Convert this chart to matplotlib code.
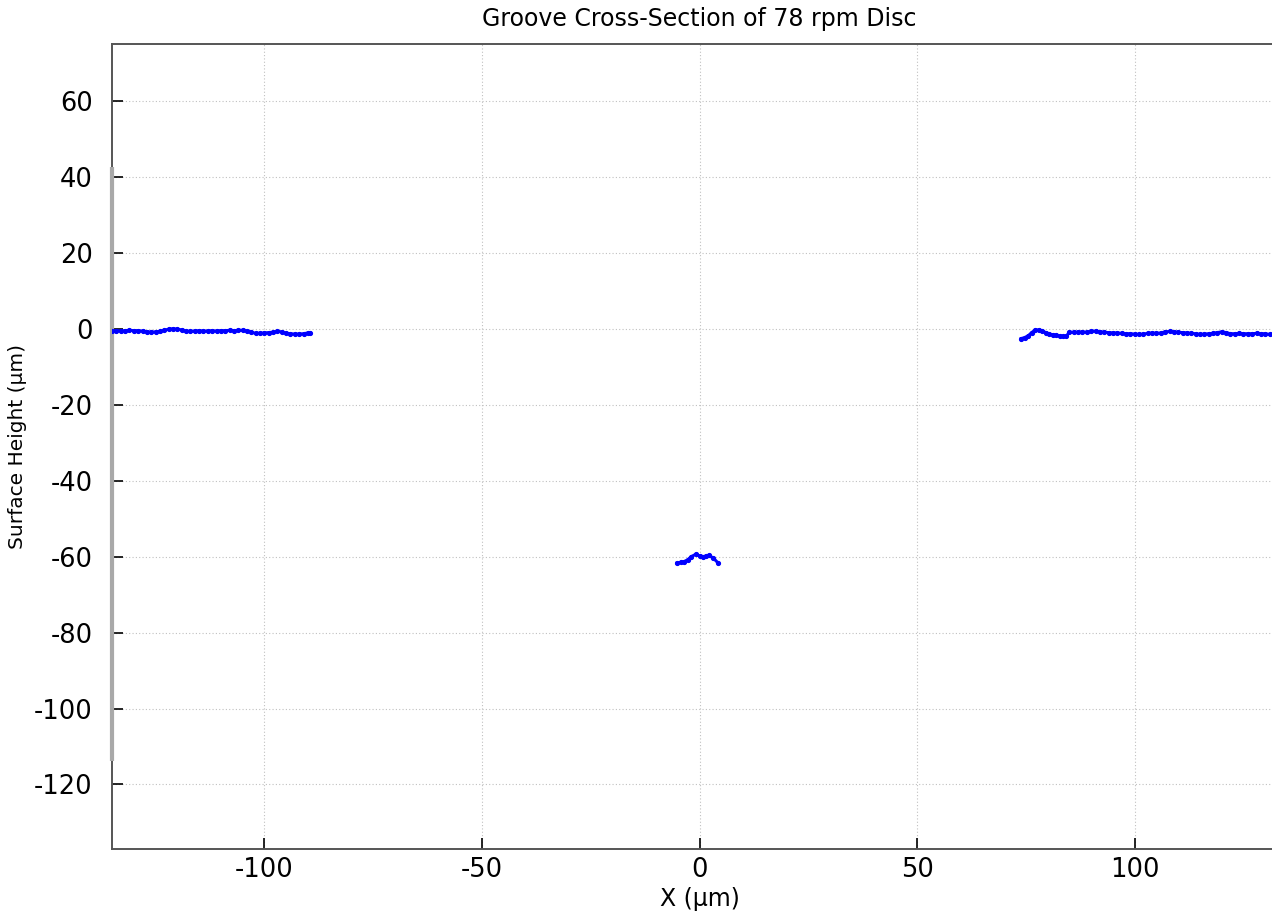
import matplotlib
matplotlib.use("Agg")
import matplotlib.pyplot as plt

plt.rcParams['font.family'] = ['DejaVu Sans']
plt.rcParams['axes.unicode_minus'] = False

title = "Groove Cross-Section of 78 rpm Disc"
xlabel = "X (\u03bcm)"
ylabel = "Surface Height (\u03bcm)"

# Left land of the groove
left_x = [-135, -134, -133, -132, -131, -130, -129, -128, -127, -126, -125, -124, -123, -122,
          -121, -120, -119, -118, -117, -116, -115, -114, -113, -112, -111, -110, -109, -108,
          -107, -106, -105, -104, -103, -102, -101, -100, -99, -98, -97, -96, -95, -94, -93,
          -92, -91, -90, -89.5]
left_y = [-0.6, -0.5, -0.6, -0.5, -0.4, -0.5, -0.5, -0.6, -0.8, -0.9, -0.8, -0.7, -0.4, -0.1,
          0.0, -0.1, -0.3, -0.6, -0.7, -0.6, -0.5, -0.6, -0.6, -0.5, -0.6, -0.5, -0.5, -0.4,
          -0.5, -0.4, -0.4, -0.6, -0.9, -1.2, -1.2, -1.1, -1.0, -0.9, -0.7, -0.8, -1.2, -1.3,
          -1.4, -1.4, -1.3, -1.1, -1.1]

# Groove bottom
mid_x = [-5.2, -4.3, -3.5, -2.7, -1.9, -0.9, 0.0, 0.9, 1.6, 2.1, 3.1, 4.2]
mid_y = [-61.7, -61.5, -61.3, -60.8, -60.0, -59.4, -59.8, -60.0, -59.8, -59.7, -60.3, -61.6]

# Right land of the groove
right_x = [73.9, 74.7, 75.5, 76.3, 77.2, 78.0, 78.8, 79.6, 80.4, 81.2, 82.0, 82.8, 83.6,
           84.3, 85.0, 86.0, 87.0, 88.0, 89.0, 90.0, 91.0, 92.0, 93.0, 94.0, 95.0, 96.0,
           97.0, 98.0, 99.0, 100.0, 101.0, 102.0, 103.0, 104.0, 105.0, 106.0, 107.0, 108.0,
           109.0, 110.0, 111.0, 112.0, 113.0, 114.0, 115.0, 116.0, 117.0, 118.0, 119.0,
           120.0, 121.0, 122.0, 123.0, 124.0, 125.0, 126.0, 127.0, 128.0, 129.0, 130.0,
           131.0, 132.0, 133.0, 134.0, 135.0]
right_y = [-2.6, -2.3, -1.9, -1.0, -0.3, -0.3, -0.6, -1.0, -1.4, -1.6, -1.7, -1.9, -2.0,
           -1.9, -0.9, -0.9, -0.9, -0.8, -0.9, -0.7, -0.6, -0.8, -0.9, -1.0, -1.1, -1.1,
           -1.2, -1.3, -1.3, -1.4, -1.5, -1.4, -1.2, -1.1, -1.2, -1.1, -0.8, -0.7, -0.8,
           -0.9, -1.0, -1.1, -1.2, -1.3, -1.5, -1.4, -1.3, -1.2, -1.0, -0.8, -1.0, -1.3,
           -1.3, -1.2, -1.3, -1.3, -1.3, -1.2, -1.3, -1.3, -1.5, -1.4, -1.5, -1.5, -1.5]

# Grey wall trace at the left edge
wall_x = [-135, -135]
wall_y = [42.6, -113.9]

xlim = (-135, 135)
ylim = (-137, 75)
xticks = [-100, -50, 0, 50, 100]
yticks = [60, 40, 20, 0, -20, -40, -60, -80, -100, -120]

fig = plt.figure(figsize=(12.72, 9.13), dpi=100)
ax = fig.add_axes([0.0881, 0.0701, 0.9237, 0.8817])

ax.plot(wall_x, wall_y, color='#a9a9a9', lw=3.0, solid_capstyle='butt', zorder=3, clip_on=False)
for xs, ys in [(left_x, left_y), (mid_x, mid_y), (right_x, right_y)]:
    ax.plot(xs, ys, color='#0000ff', lw=2.2, marker='.', markersize=5.5, zorder=4)

ax.set_xlim(*xlim)
ax.set_ylim(*ylim)
ax.set_xticks(xticks)
ax.set_yticks(yticks)
ax.tick_params(direction='in', length=8, width=1.2, top=False, right=False,
               labelsize=18.5, colors='#000000')
ax.tick_params(axis='x', pad=6)
ax.tick_params(axis='y', pad=14)
for s in ax.spines.values():
    s.set_color('#555555')
    s.set_linewidth(1.4)
ax.grid(True, linestyle=(0, (1, 2)), color='#c0c0c0', linewidth=0.8)
ax.set_axisbelow(True)

ax.set_title(title, fontsize=17, pad=13)
ax.set_xlabel(xlabel, fontsize=17, labelpad=3)
ax.set_ylabel(ylabel, fontsize=14.5, labelpad=5)

fig.savefig("out.png", dpi=100)
